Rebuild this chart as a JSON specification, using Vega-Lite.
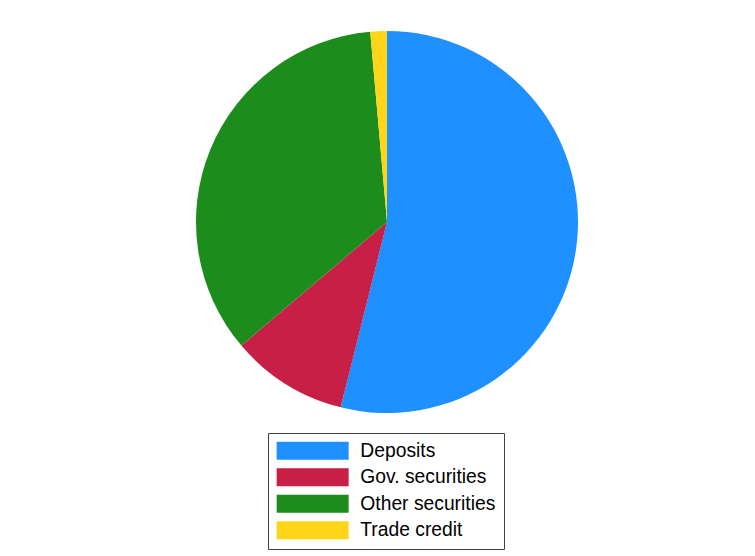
{
  "$schema": "https://vega.github.io/schema/vega-lite/v6.json",
  "autosize": {"type": "none"},
  "padding": {"left": 9, "top": 11, "right": 0, "bottom": 123},
  "width": 756,
  "height": 422,
  "background": "white",
  "config": {"view": {"stroke": null}},
  "data": {
    "values": [
      {"category": "Deposits", "share": 53.9, "idx": 1},
      {"category": "Gov. securities", "share": 9.9, "idx": 2},
      {"category": "Other securities", "share": 34.8, "idx": 3},
      {"category": "Trade credit", "share": 1.4, "idx": 4}
    ]
  },
  "mark": {"type": "arc", "outerRadius": 191, "stroke": null},
  "encoding": {
    "theta": {"field": "share", "type": "quantitative", "stack": true},
    "order": {"field": "idx", "type": "quantitative"},
    "color": {
      "field": "category",
      "type": "nominal",
      "sort": ["Deposits", "Gov. securities", "Other securities", "Trade credit"],
      "scale": {
        "domain": ["Deposits", "Gov. securities", "Other securities", "Trade credit"],
        "range": ["#1E90FF", "#C71F45", "#1C8C1C", "#FFD51A"]
      },
      "legend": {
        "orient": "none",
        "legendX": 259,
        "legendY": 422,
        "title": null,
        "symbolType": "M-1,-1H7V1H-1Z",
        "symbolSize": 324,
        "symbolStrokeWidth": 0,
        "symbolOpacity": 1,
        "labelFont": "Liberation Sans",
        "labelFontSize": 19.3,
        "labelColor": "black",
        "labelOffset": 65,
        "labelLimit": 0,
        "rowPadding": 6.5,
        "padding": 8,
        "strokeColor": "#404040",
        "fillColor": "white"
      }
    }
  }
}
